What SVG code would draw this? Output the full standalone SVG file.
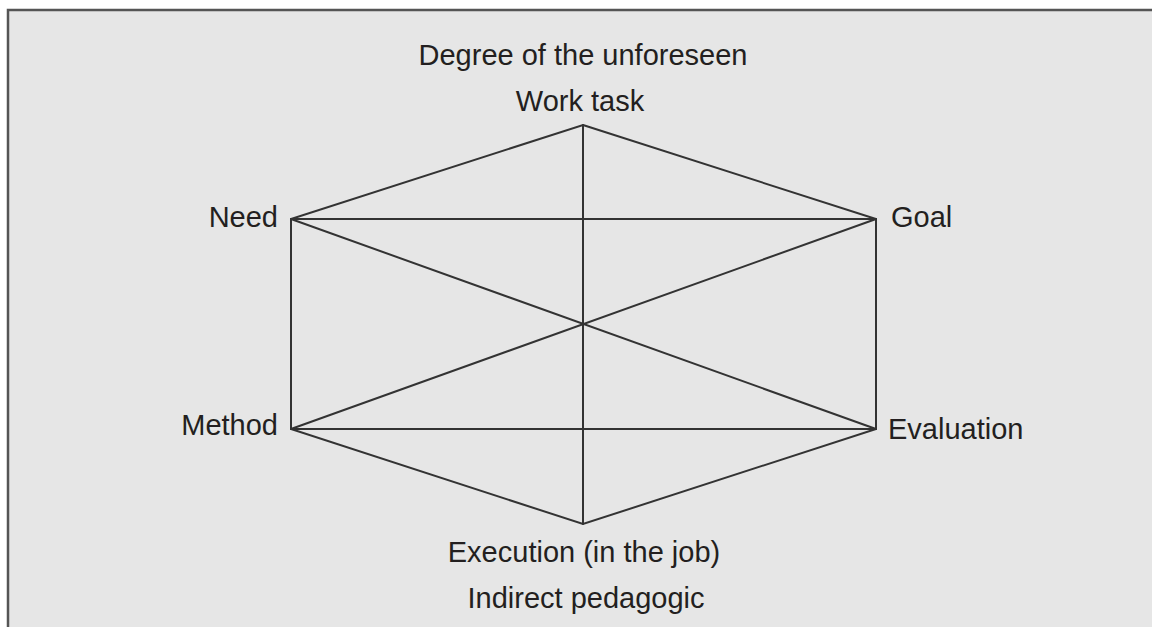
<svg xmlns="http://www.w3.org/2000/svg" width="1152" height="627" viewBox="0 0 1152 627">
  <style>
    .panel { fill: #e6e6e6; stroke: #555555; stroke-width: 2.5; }
    .edge { stroke: #333333; stroke-width: 2; fill: none; stroke-linecap: round; }
    .label { font-family: "Liberation Sans", Arial, sans-serif; font-size: 29px; fill: #231f20; }
    .mid { text-anchor: middle; }
    .end { text-anchor: end; }
  </style>
  <rect width="1152" height="627" fill="#ffffff"/>
  <!-- panel runs off the right and bottom edges -->
  <rect class="panel" x="8" y="10" width="1160" height="640"/>

  <g id="connectors">
    <!-- hexagon outline -->
    <polygon class="edge" points="583,125 876,219 876,429 583,524 291,429 291,219"/>
    <!-- inner lines -->
    <line class="edge" x1="583" y1="125" x2="583" y2="524"/>
    <line class="edge" x1="291" y1="219" x2="876" y2="219"/>
    <line class="edge" x1="291" y1="429" x2="876" y2="429"/>
    <line class="edge" x1="291" y1="219" x2="876" y2="429"/>
    <line class="edge" x1="291" y1="429" x2="876" y2="219"/>
  </g>

  <g id="title">
    <text class="label mid" x="583" y="65">Degree of the unforeseen</text>
  </g>
  <g id="work-task">
    <text class="label mid" x="580" y="111">Work task</text>
  </g>
  <g id="need">
    <text class="label end" x="278" y="227">Need</text>
  </g>
  <g id="goal">
    <text class="label" x="891" y="227">Goal</text>
  </g>
  <g id="method">
    <text class="label end" x="278" y="435">Method</text>
  </g>
  <g id="evaluation">
    <text class="label" x="888" y="439">Evaluation</text>
  </g>
  <g id="execution">
    <text class="label mid" x="584" y="562">Execution (in the job)</text>
  </g>
  <g id="indirect">
    <text class="label mid" x="586" y="608">Indirect pedagogic</text>
  </g>
</svg>
